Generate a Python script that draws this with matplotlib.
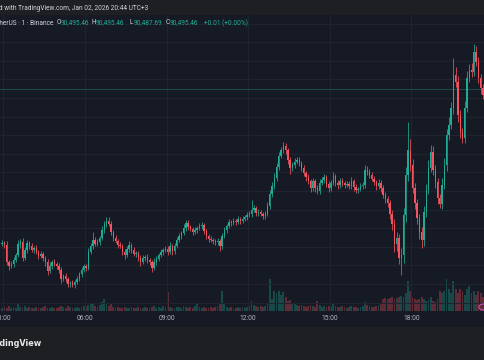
import numpy as np
import matplotlib.pyplot as plt
from matplotlib.patches import Rectangle, Circle

# 5-minute candles, first one starts 02:55
first_start = 175          # minutes after midnight
step = 5
first_open = 88830

close = [
    88841, 88820, 88637, 88594, 88615, 88658, 88712, 88830, 88852, 88680,
    88766, 88841, 88809, 88766, 88787, 88744, 88701, 88723, 88680, 88637,
    88540, 88594, 88637, 88615, 88594, 88551, 88454, 88486, 88454, 88400,
    88411, 88390, 88422, 88454, 88508, 88551, 88594, 88572, 88744, 88809,
    88873, 88830, 88852, 88895, 88981, 89046, 89078, 89046, 88960, 88895,
    88863, 88820, 88809, 88744, 88712, 88777, 88820, 88766, 88723, 88734,
    88680, 88637, 88680, 88691, 88658, 88637, 88572, 88637, 88669, 88712,
    88744, 88766, 88777, 88744, 88809, 88755, 88809, 88873, 88916, 88949,
    89003, 89056, 89013, 88992, 88960, 88981, 89003, 89024, 89035, 88970,
    88916, 88884, 88873, 88863, 88852, 88863, 88809, 88916, 88981, 89024,
    89067, 89056, 89078, 89067, 89099, 89078, 89099, 89121, 89142, 89153,
    89196, 89217, 89164, 89174, 89153, 89131, 89153, 89239, 89368, 89454,
    89540, 89658, 89776, 89841, 89884, 89841, 89733, 89647, 89680, 89712,
    89733, 89701, 89647, 89594, 89551, 89508, 89432, 89508, 89432, 89400,
    89486, 89518, 89551, 89475, 89432, 89486, 89561, 89486, 89465, 89508,
    89486, 89465, 89475, 89454, 89508, 89443, 89411, 89422, 89454, 89465,
    89626, 89604, 89572, 89529, 89497, 89454, 89486, 89432, 89357, 89314,
    89271, 89153, 89046, 88830, 88895, 88680, 88712, 89142, 89572, 89841,
    89680, 89432, 89271, 89110, 88960, 88873, 89174, 89411, 89647, 89819,
    89626, 89497, 89325, 89260, 89465, 89680, 90002, 90110, 90292, 90647,
    90572, 90217, 90034, 89970, 90292, 90615, 90701, 90679, 90895, 90787,
    90615, 90508, 90432, 90495.46,
]

# how far each wick sticks out of the body (USD)
wick_up = [
    30, 25, 40, 20, 35, 30, 25, 40, 30, 45,
    30, 35, 25, 30, 20, 35, 25, 30, 20, 25,
    30, 40, 25, 30, 20, 35, 30, 25, 35, 20,
    25, 30, 20, 35, 25, 30, 20, 25, 40, 35,
    86, 30, 35, 25, 40, 35, 40, 45, 30, 25,
    30, 25, 35, 20, 30, 35, 40, 25, 30, 20,
    25, 30, 35, 20, 30, 25, 20, 40, 30, 25,
    30, 25, 35, 30, 40, 25, 30, 35, 30, 25,
    40, 35, 30, 25, 20, 30, 25, 35, 30, 25,
    20, 25, 30, 20, 25, 30, 20, 35, 30, 25,
    30, 25, 35, 20, 30, 25, 30, 25, 30, 35,
    108, 30, 25, 30, 20, 25, 30, 40, 45, 40,
    50, 45, 40, 35, 45, 30, 25, 35, 30, 40,
    35, 30, 25, 30, 25, 30, 20, 35, 25, 30,
    40, 35, 30, 25, 30, 35, 40, 25, 30, 35,
    30, 25, 35, 30, 40, 25, 30, 25, 30, 35,
    54, 40, 30, 35, 30, 25, 40, 30, 35, 30,
    30, 35, 40, 50, 60, 45, 80, 70, 90, 301,
    120, 60, 50, 45, 40, 50, 70, 60, 90, 75,
    60, 50, 45, 40, 70, 80, 60, 90, 70, 183,
    90, 60, 50, 45, 80, 70, 60, 80, 86, 60,
    50, 40, 45, 0,
]
wick_dn = [
    25, 35, 30, 40, 25, 30, 20, 25, 40, 35,
    25, 30, 35, 20, 30, 25, 35, 20, 30, 40,
    45, 25, 30, 20, 35, 30, 40, 25, 30, 35,
    30, 25, 30, 20, 25, 30, 25, 30, 20, 25,
    30, 25, 20, 30, 25, 30, 35, 25, 30, 35,
    25, 30, 20, 35, 40, 25, 30, 35, 25, 30,
    30, 40, 25, 30, 35, 30, 45, 25, 30, 20,
    25, 30, 20, 35, 25, 40, 30, 20, 25, 30,
    25, 30, 35, 25, 30, 20, 30, 25, 35, 30,
    35, 30, 25, 30, 35, 30, 50, 30, 25, 30,
    25, 30, 20, 35, 25, 30, 20, 25, 30, 25,
    30, 25, 35, 30, 25, 35, 30, 25, 30, 35,
    30, 35, 30, 25, 30, 40, 45, 60, 35, 30,
    25, 30, 35, 30, 40, 35, 45, 30, 40, 35,
    30, 25, 30, 35, 40, 30, 25, 35, 40, 30,
    35, 30, 25, 35, 30, 40, 35, 30, 25, 30,
    30, 35, 30, 25, 35, 40, 30, 40, 35, 40,
    45, 50, 60, 90, 80, 70, 183, 90, 70, 60,
    60, 50, 60, 70, 80, 86, 60, 50, 45, 40,
    50, 60, 70, 43, 50, 40, 60, 50, 45, 60,
    50, 70, 60, 54, 50, 40, 45, 50, 40, 45,
    50, 60, 45, 8,
]

volume = [
    30, 40, 30, 50, 30, 40, 30, 70, 40, 30,
    50, 30, 40, 30, 30, 40, 30, 30, 40, 50,
    30, 30, 40, 30, 30, 40, 50, 40, 30, 50,
    40, 30, 30, 40, 30, 40, 50, 40, 60, 70,
    70, 50, 40, 60, 90, 120, 70, 50, 70, 40,
    30, 40, 30, 30, 40, 30, 30, 40, 30, 30,
    40, 30, 30, 40, 30, 30, 40, 50, 30, 40,
    30, 50, 40, 190, 40, 30, 30, 40, 40, 30,
    50, 40, 30, 40, 30, 50, 70, 40, 30, 40,
    30, 30, 40, 30, 40, 50, 80, 200, 70, 40,
    30, 40, 30, 30, 40, 30, 40, 30, 40, 50,
    100, 60, 50, 40, 50, 40, 50, 70, 320, 120,
    200, 180, 200, 160, 190, 140, 100, 110, 80, 70,
    60, 50, 60, 50, 40, 50, 60, 50, 40, 100,
    60, 40, 50, 40, 50, 40, 70, 50, 40, 40,
    50, 40, 30, 40, 50, 40, 40, 30, 40, 50,
    90, 60, 50, 40, 40, 50, 60, 70, 120, 130,
    120, 130, 140, 120, 130, 140, 150, 140, 180, 300,
    200, 140, 120, 110, 120, 140, 120, 100, 110, 140,
    100, 90, 120, 200, 180, 200, 320, 220, 180, 300,
    220, 180, 220, 200, 160, 220, 250, 180, 200, 160,
    200, 180, 140, 80,
]

tick_minutes = [180, 360, 540, 720, 900, 1080]
tick_labels = ['03:00', '06:00', '09:00', '12:00', '15:00', '18:00']
grid_prices = list(range(88200, 91400, 200))

UP = '#22ab94'
DOWN = '#f7525f'
PANE = '#161a25'
FONT = ['Roboto', 'DejaVu Sans']
FS = 4.7

close = np.array(close, dtype=float)
opn = np.concatenate([[first_open], close[:-1]])
n = len(close)
t_mid = first_start + step * np.arange(n) + step / 2
top = np.maximum(opn, close)
bot = np.minimum(opn, close)
high = top + np.array(wick_up)
low = bot - np.array(wick_dn)
up = close >= opn
cols = np.where(up, UP, DOWN)

W, H = 485, 360
fig = plt.figure(figsize=(W / 100, H / 100), dpi=100)
fig.patch.set_facecolor('#1e1f22')


def fy(px):
    return 1 - px / H


# chart pane + time axis strip
fig.patches.append(Rectangle((0, fy(327)), 1, (327 - 15) / H, transform=fig.transFigure,
                             facecolor=PANE, edgecolor='none', zorder=-5))

rect = [0, fy(311), 1, (311 - 15) / H]
axv = fig.add_axes(rect)
ax = fig.add_axes(rect, sharex=axv)
for a in (axv, ax):
    a.set_facecolor('none')
    a.axis('off')

xmin, xmax = 172.7, 1242.2
ax.set_xlim(xmin, xmax)
ax.set_ylim(88110, 91292)
axv.set_ylim(0, 2960)

for p in grid_prices:
    ax.axhline(p, color='#202431', lw=0.8, zorder=0)
for m in tick_minutes:
    ax.axvline(m, color='#202431', lw=0.8, zorder=0)

# volume
axv.bar(t_mid, volume, width=step * 0.8, color=cols, alpha=0.32, linewidth=0)

# candles
ax.vlines(t_mid, low, high, colors=cols, lw=0.55, zorder=2)
ax.bar(t_mid, np.maximum(top - bot, 4), bottom=bot, width=step * 0.6,
       color=cols, linewidth=0, zorder=3)

# last price line
ax.axhline(close[-1], color=UP, lw=0.7, alpha=0.35, zorder=1)

# time axis labels
for m, lab in zip(tick_minutes, tick_labels):
    xf = (m - xmin) / (xmax - xmin)
    fig.text(xf, fy(319), lab, color='#b2b5be', fontsize=4.9, family=FONT,
             ha='center', va='center')

# header
fig.text(148 / W, fy(8), 'Created with TradingView.com, Jan 02, 2026 20:44 UTC+3',
         color='#d1d4dc', fontsize=FS, family=FONT, ha='right', va='center')

# legend line
fig.text(53 / W, fy(23), 'Bitcoin / TetherUS \u00b7 1 \u00b7 Binance',
         color='#d1d4dc', fontsize=FS, family=FONT, ha='right', va='center')
legend_items = [('O', '90,495.46', 57), ('H', '90,495.46', 92),
                ('L', '90,487.69', 130), ('C', '90,495.46', 166)]
for lab, val, xp in legend_items:
    fig.text(xp / W, fy(23), lab, color='#d1d4dc', fontsize=FS, family=FONT,
             ha='left', va='center')
    fig.text((xp + 4) / W, fy(23), val, color=UP, fontsize=FS, family=FONT,
             ha='left', va='center')
fig.text(204 / W, fy(23), '+0.01 (+0.00%)', color=UP, fontsize=FS, family=FONT,
         ha='left', va='center')

# footer logo text
fig.text(42 / W, fy(343), 'TradingView', color='#e6e6e6', fontsize=5.9,
         fontweight='bold', ha='right', va='center')

# events marker bottom right
fig.patches.append(Circle((483 / W, fy(307)), 4 / W, transform=fig.transFigure,
                          facecolor='none', edgecolor='#b64fa8', lw=0.9, zorder=5))

fig.savefig('out.png', dpi=100, facecolor=fig.get_facecolor())
